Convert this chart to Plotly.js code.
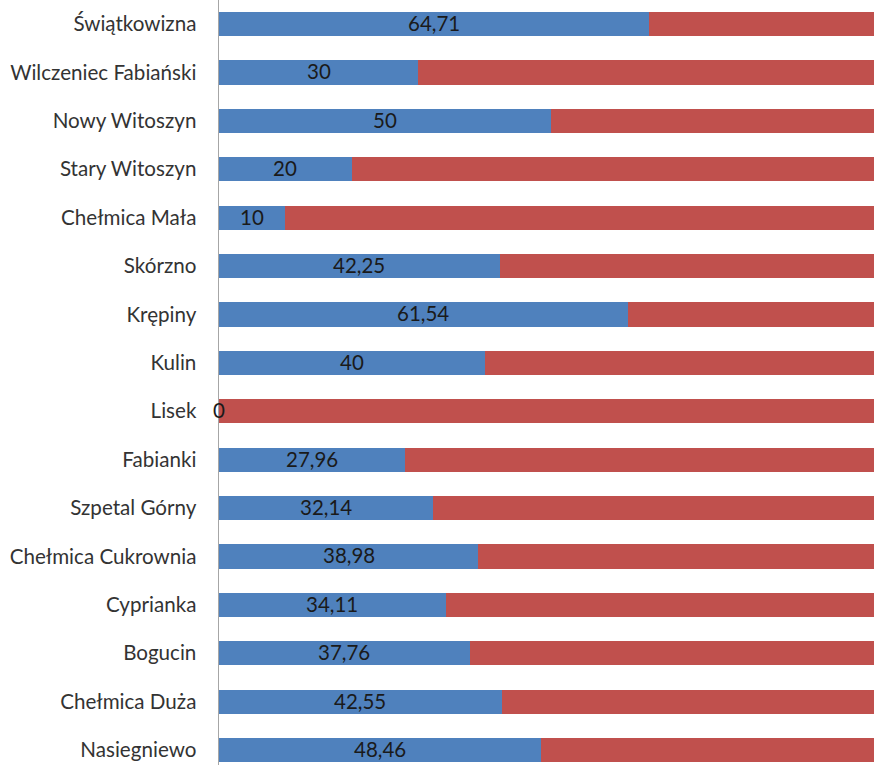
<!DOCTYPE html>
<html>
<head>
<meta charset="utf-8">
<script src="https://cdn.plot.ly/plotly-3.0.1.min.js"></script>
<style>html,body{margin:0;padding:0;background:#fff;}#chart{width:874px;height:765px;}</style>
</head>
<body>
<div id="chart"></div>
<script>
const categories = ["Świątkowizna","Wilczeniec Fabiański","Nowy Witoszyn","Stary Witoszyn","Chełmica Mała","Skórzno","Krępiny","Kulin","Lisek","Fabianki","Szpetal Górny","Chełmica Cukrownia","Cyprianka","Bogucin","Chełmica Duża","Nasiegniewo"];
const blueValues = [64.71,30,50,20,10,42.25,61.54,40,0,27.96,32.14,38.98,34.11,37.76,42.55,48.46];
const redValues = [35.29,70,50,80,90,57.75,38.46,60,100,72.04,67.86,61.02,65.89,62.24,57.45,51.54];
const blueLabels = ["64,71","30","50","20","10","42,25","61,54","40","0","27,96","32,14","38,98","34,11","37,76","42,55","48,46"];

const FONT = "Lato, 'Open Sans', sans-serif";
const traces = [
  {type:'bar', orientation:'h', y:categories, x:blueValues, marker:{color:'#4F81BD'}, hoverinfo:'skip', showlegend:false},
  {type:'bar', orientation:'h', y:categories, x:redValues, marker:{color:'#C0504D'}, hoverinfo:'skip', showlegend:false}
];
const annotations = categories.map((c, i) => ({
  x: blueValues[i] / 2, y: c, xref:'x', yref:'y', text: blueLabels[i], showarrow:false,
  xanchor:'center', yanchor:'middle', yshift:1,
  font:{family:FONT, size:20.5, color:'#1a1a1a'}
}));
const layout = {
  width:874, height:765,
  margin:{l:219, r:0, t:0, b:0, pad:0},
  paper_bgcolor:'#fff', plot_bgcolor:'#fff',
  barmode:'stack', bargap:0.5,
  showlegend:false,
  annotations: annotations,
  xaxis:{range:[0,98.57], showgrid:false, zeroline:false, showticklabels:false, ticks:'', showline:false, fixedrange:true},
  yaxis:{type:'category', categoryorder:'array', categoryarray:categories, range:[15.31,-0.496],
         showgrid:false, zeroline:false, showline:true, linecolor:'#a6a6a6', linewidth:1.5,
         ticks:'', ticklabelstandoff:17, tickfont:{family:FONT, size:20.6, color:'#333333'}, fixedrange:true}
};
Plotly.newPlot('chart', traces, layout, {displayModeBar:false, staticPlot:true});
</script>
</body>
</html>
